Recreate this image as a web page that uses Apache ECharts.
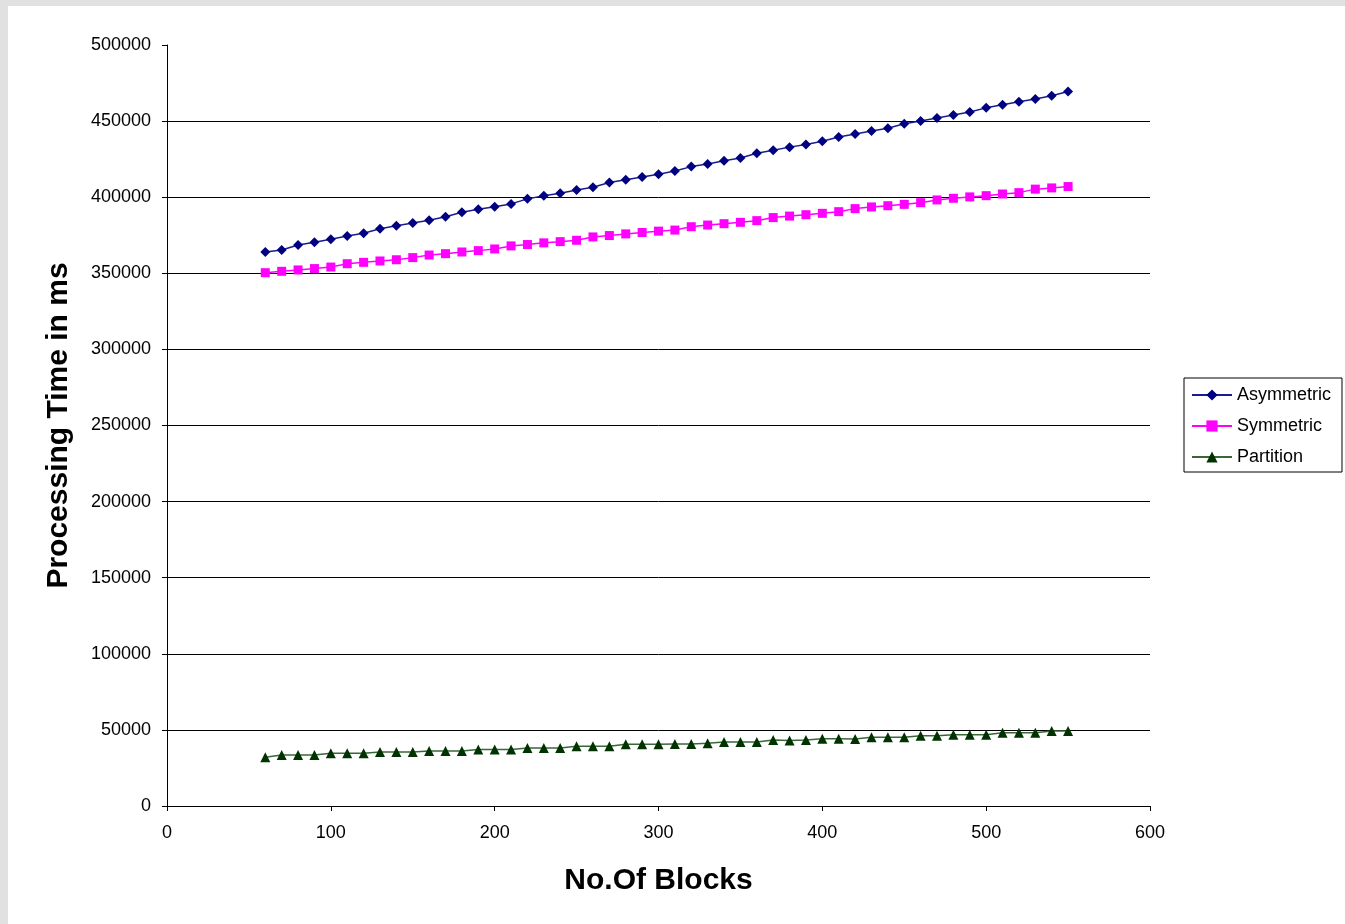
<!DOCTYPE html>
<html>
<head>
<meta charset="utf-8">
<script src="https://cdn.jsdelivr.net/npm/echarts@6/dist/echarts.min.js"></script>
<style>
  html, body { margin: 0; padding: 0; background: #e1e1e1; width: 1345px; height: 924px; overflow: hidden; }
  #chart { position: absolute; left: 8px; top: 6px; width: 1337px; height: 918px; background: #ffffff; }
</style>
</head>
<body>
<div id="chart"></div>
<script>
const blocks = [60,70,80,90,100,110,120,130,140,150,160,170,180,190,200,210,220,230,240,250,
  260,270,280,290,300,310,320,330,340,350,360,370,380,390,400,410,420,430,440,450,
  460,470,480,490,500,510,520,530,540,550];

const asymmetric = [364000,365300,368600,370400,372400,374500,376300,379300,381300,383100,
  384800,387200,390100,392100,393800,395600,398900,400900,402600,404800,
  406600,409600,411400,413300,415100,417200,420100,421800,424000,425800,
  428900,430900,432900,434600,436800,439600,441500,443500,445300,448200,
  450000,452000,454000,456000,458700,460700,462700,464500,466600,469500];

const symmetric = [350400,351300,352200,353100,354100,356300,357200,358100,358900,360300,
  362000,362900,364000,364900,366000,368000,368900,370000,370800,371700,
  373900,374800,375900,376800,377700,378400,380600,381700,382600,383500,
  384600,386600,387600,388500,389400,390500,392500,393600,394400,395300,
  396400,398200,399300,400200,401000,402100,403000,405300,406100,407000];

const partition = [32000,33500,33500,33500,34600,34600,34600,35500,35500,35500,
  36100,36100,36100,37200,37200,37200,38100,38100,38100,39200,
  39200,39200,40500,40500,40500,40700,40700,41200,42000,42000,
  42000,43400,43000,43400,44200,44200,44000,45100,45100,45100,
  46200,46200,46800,46800,46800,48200,48200,48200,49300,49300];

const seriesNames = ['Asymmetric', 'Symmetric', 'Partition'];

function pairs(vals) { return blocks.map((b, i) => [b, vals[i]]); }

const chart = echarts.init(document.getElementById('chart'), null, { renderer: 'canvas' });
const font = '"Liberation Sans", Arial, sans-serif';

chart.setOption({
  animation: false,
  backgroundColor: '#ffffff',
  grid: { left: 159, right: 195, top: 39, bottom: 118, containLabel: false },
  legend: {
    orient: 'vertical',
    left: 1176,
    top: 372,
    data: seriesNames,
    itemWidth: 40,
    itemHeight: 14,
    itemGap: 13,
    padding: [8, 11, 6, 7],
    borderColor: '#000',
    borderWidth: 1,
    backgroundColor: '#fff',
    textStyle: { fontFamily: font, fontSize: 18, color: '#000' }
  },
  xAxis: {
    type: 'value',
    min: 0, max: 600, interval: 100,
    name: 'No.Of Blocks',
    nameLocation: 'middle',
    nameGap: 60,
    nameTextStyle: { fontFamily: font, fontSize: 30, fontWeight: 'bold', color: '#000' },
    axisLine: { show: true, lineStyle: { color: '#000', width: 1 } },
    axisTick: { show: true, inside: false, length: 5, lineStyle: { color: '#000' } },
    axisLabel: { fontFamily: font, fontSize: 18, color: '#000', margin: 18 },
    splitLine: { show: false }
  },
  yAxis: {
    type: 'value',
    min: 0, max: 500000, interval: 50000,
    name: 'Processing Time in ms',
    nameLocation: 'middle',
    nameGap: 93,
    nameTextStyle: { fontFamily: font, fontSize: 30, fontWeight: 'bold', color: '#000' },
    axisLine: { show: true, lineStyle: { color: '#000', width: 1 } },
    axisTick: { show: true, inside: false, length: 5, lineStyle: { color: '#000' } },
    axisLabel: { fontFamily: font, fontSize: 18, color: '#000', margin: 16, formatter: v => String(v) },
    splitLine: { show: true, showMinLine: false, showMaxLine: false, lineStyle: { color: '#000', width: 1 } }
  },
  series: [
    {
      name: seriesNames[0], type: 'line', data: pairs(asymmetric),
      symbol: 'diamond', symbolSize: 10,
      itemStyle: { color: '#000080' },
      lineStyle: { color: '#1c1c8c', width: 1.5 }
    },
    {
      name: seriesNames[1], type: 'line', data: pairs(symmetric),
      symbol: 'rect', symbolSize: 9,
      itemStyle: { color: '#ff00ff' },
      lineStyle: { color: '#ff00ff', width: 1.5 }
    },
    {
      name: seriesNames[2], type: 'line', data: pairs(partition),
      symbol: 'triangle', symbolSize: 10,
      itemStyle: { color: '#003300' },
      lineStyle: { color: '#3a673a', width: 1.5 }
    }
  ]
});
</script>
</body>
</html>
